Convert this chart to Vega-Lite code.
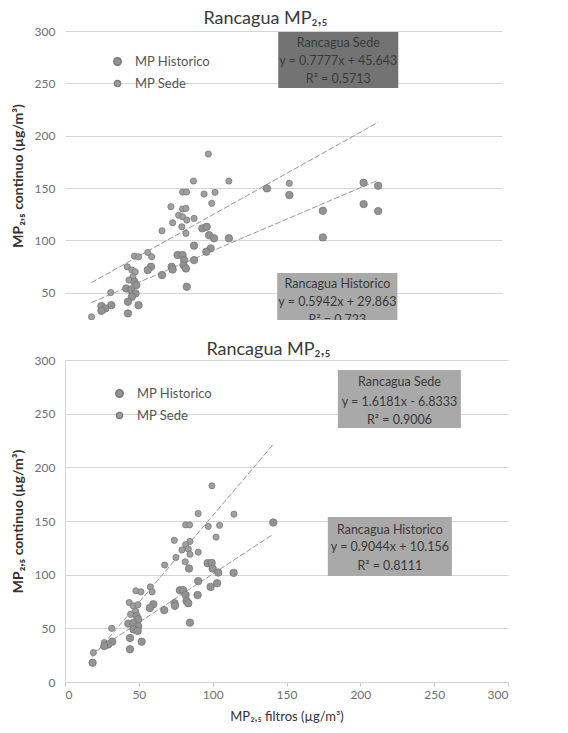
{
  "$schema": "https://vega.github.io/schema/vega-lite/v6.json",
  "background": "white",
  "padding": {"left": 11, "top": 10, "right": 5, "bottom": 5},
  "config": {
    "font": "Lato",
    "view": {"stroke": null},
    "title": {"font": "Lato", "fontSize": 18, "fontWeight": "normal", "color": "#3a3a3a", "offset": -3},
    "axis": {"labelFont": "Lato", "labelFontSize": 12, "labelColor": "#707070", "titleFont": "Lato", "titleFontSize": 14, "titleColor": "#333333", "gridColor": "#d6d6d6", "domainColor": "#d6d6d6", "tickColor": "#c8c8c8"},
    "legend": {"labelFont": "Lato", "labelFontSize": 13, "labelColor": "#555555", "rowPadding": 8, "labelOffset": 11}
  },
  "datasets": {
    "topPts": [
      {"x": 98.4, "y": 182.5, "series": "MP Sede"}, {"x": 88.2, "y": 156.7, "series": "MP Sede"}, {"x": 112.5, "y": 156.7, "series": "MP Sede"},
      {"x": 80.7, "y": 146.2, "series": "MP Sede"}, {"x": 83.4, "y": 146.2, "series": "MP Sede"}, {"x": 95.5, "y": 144.3, "series": "MP Sede"},
      {"x": 103, "y": 145.9, "series": "MP Sede"}, {"x": 100.7, "y": 135.4, "series": "MP Sede"}, {"x": 72.7, "y": 132.2, "series": "MP Sede"},
      {"x": 80.7, "y": 130, "series": "MP Sede"}, {"x": 83, "y": 130.6, "series": "MP Sede"}, {"x": 78, "y": 124, "series": "MP Sede"},
      {"x": 80.7, "y": 122.6, "series": "MP Sede"}, {"x": 83.6, "y": 119.4, "series": "MP Sede"}, {"x": 88.6, "y": 121, "series": "MP Sede"},
      {"x": 73.9, "y": 116.9, "series": "MP Sede"}, {"x": 80.2, "y": 113, "series": "MP Sede"}, {"x": 66.6, "y": 109.2, "series": "MP Sede"},
      {"x": 83, "y": 106.7, "series": "MP Sede"}, {"x": 47.7, "y": 85, "series": "MP Sede"}, {"x": 50.5, "y": 84.4, "series": "MP Sede"},
      {"x": 56.8, "y": 88.5, "series": "MP Sede"}, {"x": 59.5, "y": 84.4, "series": "MP Sede"}, {"x": 42.7, "y": 74.8, "series": "MP Sede"},
      {"x": 45.9, "y": 71.7, "series": "MP Sede"}, {"x": 48.2, "y": 70, "series": "MP Sede"}, {"x": 46.6, "y": 65.3, "series": "MP Sede"},
      {"x": 43.9, "y": 62.1, "series": "MP Sede"}, {"x": 31.4, "y": 50.3, "series": "MP Sede"}, {"x": 18.2, "y": 27, "series": "MP Sede"},
      {"x": 154, "y": 154.5, "series": "MP Sede"},
      {"x": 94.3, "y": 111.5, "series": "MP Historico"}, {"x": 97.3, "y": 113, "series": "MP Historico"}, {"x": 98.9, "y": 105, "series": "MP Historico"},
      {"x": 102.3, "y": 102, "series": "MP Historico"}, {"x": 112.5, "y": 102, "series": "MP Historico"}, {"x": 88.6, "y": 95, "series": "MP Historico"},
      {"x": 100, "y": 92.4, "series": "MP Historico"}, {"x": 97, "y": 89.2, "series": "MP Historico"}, {"x": 77.3, "y": 86, "series": "MP Historico"},
      {"x": 80.7, "y": 86, "series": "MP Historico"}, {"x": 81.8, "y": 81.2, "series": "MP Historico"}, {"x": 88.6, "y": 81.2, "series": "MP Historico"},
      {"x": 59, "y": 74.8, "series": "MP Historico"}, {"x": 56.8, "y": 71.7, "series": "MP Historico"}, {"x": 73.2, "y": 74.8, "series": "MP Historico"},
      {"x": 73.9, "y": 72.3, "series": "MP Historico"}, {"x": 66.6, "y": 66.9, "series": "MP Historico"}, {"x": 81.4, "y": 76.4, "series": "MP Historico"},
      {"x": 83, "y": 73.2, "series": "MP Historico"}, {"x": 47.7, "y": 60.5, "series": "MP Historico"}, {"x": 48.9, "y": 57.3, "series": "MP Historico"},
      {"x": 42, "y": 54.1, "series": "MP Historico"}, {"x": 45.5, "y": 52.5, "series": "MP Historico"}, {"x": 83.6, "y": 55.7, "series": "MP Historico"},
      {"x": 48.4, "y": 49.4, "series": "MP Historico"}, {"x": 45.9, "y": 46.2, "series": "MP Historico"}, {"x": 43.2, "y": 41.4, "series": "MP Historico"},
      {"x": 50.5, "y": 38.2, "series": "MP Historico"}, {"x": 31.8, "y": 38.2, "series": "MP Historico"}, {"x": 25, "y": 37.3, "series": "MP Historico"},
      {"x": 27.7, "y": 35, "series": "MP Historico"}, {"x": 25, "y": 32.8, "series": "MP Historico"}, {"x": 43.2, "y": 30.3, "series": "MP Historico"},
      {"x": 138.6, "y": 149.7, "series": "MP Historico"}, {"x": 154, "y": 143.3, "series": "MP Historico"}, {"x": 177, "y": 128.3, "series": "MP Historico"},
      {"x": 177, "y": 102.9, "series": "MP Historico"}, {"x": 205, "y": 155, "series": "MP Historico"}, {"x": 205, "y": 134.7, "series": "MP Historico"},
      {"x": 215, "y": 152.2, "series": "MP Historico"}, {"x": 215, "y": 128, "series": "MP Historico"}
    ],
    "botPts": [
      {"x": 99.5, "y": 182.8, "series": "MP Sede"}, {"x": 90.2, "y": 157, "series": "MP Sede"}, {"x": 114.4, "y": 156.4, "series": "MP Sede"},
      {"x": 81.7, "y": 146.4, "series": "MP Sede"}, {"x": 84.4, "y": 146.4, "series": "MP Sede"}, {"x": 97, "y": 145, "series": "MP Sede"},
      {"x": 104.7, "y": 146, "series": "MP Sede"}, {"x": 102.3, "y": 135, "series": "MP Sede"}, {"x": 74, "y": 132, "series": "MP Sede"},
      {"x": 84.6, "y": 131, "series": "MP Sede"}, {"x": 81.7, "y": 128, "series": "MP Sede"}, {"x": 79.2, "y": 123, "series": "MP Sede"},
      {"x": 83.5, "y": 124, "series": "MP Sede"}, {"x": 84.6, "y": 119, "series": "MP Sede"}, {"x": 90.2, "y": 121, "series": "MP Sede"},
      {"x": 75.1, "y": 116, "series": "MP Sede"}, {"x": 81.4, "y": 112, "series": "MP Sede"}, {"x": 67.5, "y": 109, "series": "MP Sede"},
      {"x": 48, "y": 85, "series": "MP Sede"}, {"x": 51.4, "y": 84, "series": "MP Sede"}, {"x": 57.8, "y": 88.6, "series": "MP Sede"},
      {"x": 59, "y": 84, "series": "MP Sede"}, {"x": 43.5, "y": 74, "series": "MP Sede"}, {"x": 46.2, "y": 71, "series": "MP Sede"},
      {"x": 49.4, "y": 72, "series": "MP Sede"}, {"x": 47.8, "y": 66, "series": "MP Sede"}, {"x": 44.4, "y": 63, "series": "MP Sede"},
      {"x": 31.6, "y": 50, "series": "MP Sede"}, {"x": 19.2, "y": 27.4, "series": "MP Sede"}, {"x": 26.6, "y": 36.7, "series": "MP Sede"},
      {"x": 141, "y": 148.6, "series": "MP Historico"}, {"x": 96.6, "y": 110.7, "series": "MP Historico"}, {"x": 99.3, "y": 111, "series": "MP Historico"},
      {"x": 84, "y": 105.7, "series": "MP Historico"}, {"x": 100, "y": 105.7, "series": "MP Historico"}, {"x": 103.8, "y": 102, "series": "MP Historico"},
      {"x": 114.2, "y": 101.7, "series": "MP Historico"}, {"x": 90.2, "y": 94, "series": "MP Historico"}, {"x": 103, "y": 92, "series": "MP Historico"},
      {"x": 98.6, "y": 88.6, "series": "MP Historico"}, {"x": 77.8, "y": 85.5, "series": "MP Historico"}, {"x": 80, "y": 85.5, "series": "MP Historico"},
      {"x": 81.7, "y": 81, "series": "MP Historico"}, {"x": 89.8, "y": 81, "series": "MP Historico"}, {"x": 59.8, "y": 72.4, "series": "MP Historico"},
      {"x": 57.5, "y": 69, "series": "MP Historico"}, {"x": 74.2, "y": 73.4, "series": "MP Historico"}, {"x": 74.4, "y": 71, "series": "MP Historico"},
      {"x": 67.2, "y": 67, "series": "MP Historico"}, {"x": 82.3, "y": 75.5, "series": "MP Historico"}, {"x": 83.5, "y": 73.4, "series": "MP Historico"},
      {"x": 48.5, "y": 61.6, "series": "MP Historico"}, {"x": 49.6, "y": 58.5, "series": "MP Historico"}, {"x": 42.9, "y": 54.4, "series": "MP Historico"},
      {"x": 46.2, "y": 55, "series": "MP Historico"}, {"x": 49.6, "y": 52, "series": "MP Historico"}, {"x": 46.4, "y": 49, "series": "MP Historico"},
      {"x": 49.2, "y": 47.6, "series": "MP Historico"}, {"x": 84.6, "y": 55.3, "series": "MP Historico"}, {"x": 44, "y": 41, "series": "MP Historico"},
      {"x": 51.9, "y": 37.6, "series": "MP Historico"}, {"x": 32, "y": 37.6, "series": "MP Historico"}, {"x": 29.3, "y": 35, "series": "MP Historico"},
      {"x": 26.6, "y": 33.6, "series": "MP Historico"}, {"x": 44, "y": 30.5, "series": "MP Historico"}, {"x": 18.7, "y": 18, "series": "MP Historico"}
    ],
    "topLines": [
      {"x": 18, "y": 59.6, "series": "Sede"}, {"x": 215, "y": 212.9, "series": "Sede"},
      {"x": 18, "y": 40.6, "series": "Historico"}, {"x": 215, "y": 157.6, "series": "Historico"}
    ],
    "botLines": [
      {"x": 18.7, "y": 23.4, "series": "Sede"}, {"x": 141, "y": 221.3, "series": "Sede"},
      {"x": 18.7, "y": 27.1, "series": "Historico"}, {"x": 141, "y": 137.7, "series": "Historico"}
    ],
    "topBoxes": [
      {"box": "Sede", "x": 146.4, "x2": 228.8, "y": 299, "y2": 245.5},
      {"box": "Historico", "x": 145.7, "x2": 228.2, "y": 68.8, "y2": 15}
    ],
    "botBoxes": [
      {"box": "Sede", "x": 184.8, "x2": 268.1, "y": 290.7, "y2": 236.7},
      {"box": "Historico", "x": 178, "x2": 262, "y": 153.7, "y2": 98.8}
    ],
    "topText": [
      {"x": 187.6, "y": 288.4, "label": "Rancagua Sede"},
      {"x": 187.6, "y": 271.3, "label": "y = 0.7777x + 45.643"},
      {"x": 187.6, "y": 254, "label": "R² = 0.5713"},
      {"x": 187, "y": 58.3, "label": "Rancagua Historico"},
      {"x": 187, "y": 41.4, "label": "y = 0.5942x + 29.863"},
      {"x": 187, "y": 24.4, "label": "R² = 0.723"}
    ],
    "botText": [
      {"x": 226.5, "y": 279.2, "label": "Rancagua Sede"},
      {"x": 226.5, "y": 261.2, "label": "y = 1.6181x - 6.8333"},
      {"x": 226.5, "y": 244.4, "label": "R² = 0.9006"},
      {"x": 220, "y": 141.9, "label": "Rancagua Historico"},
      {"x": 220, "y": 125.5, "label": "y = 0.9044x + 10.156"},
      {"x": 220, "y": 107.8, "label": "R² = 0.8111"}
    ]
  },
  "resolve": {"scale": {"color": "independent", "size": "independent"}, "legend": {"color": "independent", "size": "independent"}},
  "spacing": 21,
  "vconcat": [
    {
      "title": {"text": "Rancagua MP₂,₅", "dx": -18},
      "width": 437,
      "height": 289,
      "encoding": {
        "x": {"field": "x", "type": "quantitative", "scale": {"domain": [0, 300], "nice": false}, "axis": null},
        "y": {"field": "y", "type": "quantitative", "scale": {"domain": [24, 300], "nice": false, "zero": false},
              "axis": {"title": "MP₂,₅ continuo (µg/m³)", "titleFontWeight": "bold", "values": [50, 100, 150, 200, 250, 300], "grid": true, "domain": false, "ticks": false, "labelPadding": 10, "titlePadding": 9}}
      },
      "layer": [
        {"data": {"name": "topLines"}, "mark": {"type": "line", "stroke": "#999999", "strokeWidth": 1, "strokeDash": [6, 2], "clip": true}, "encoding": {"detail": {"field": "series"}}},
        {"data": {"name": "topPts"}, "mark": {"type": "point", "filled": true, "stroke": "#777777", "strokeWidth": 0.8, "opacity": 1, "clip": true},
         "encoding": {
           "color": {"field": "series", "type": "nominal", "scale": {"domain": ["MP Historico", "MP Sede"], "range": ["#939393", "#a0a0a0"]},
                     "legend": {"title": null, "orient": "none", "legendX": 46, "legendY": 24}},
           "size": {"field": "series", "type": "nominal", "scale": {"domain": ["MP Historico", "MP Sede"], "range": [55, 38]},
                    "legend": {"title": null, "orient": "none", "legendX": 46, "legendY": 24}}
         }},
        {"data": {"name": "topBoxes"}, "transform": [{"filter": "datum.box === 'Sede'"}], "mark": {"type": "rect", "fill": "#737373", "clip": true}, "encoding": {"x2": {"field": "x2"}, "y2": {"field": "y2"}}},
        {"data": {"name": "topBoxes"}, "transform": [{"filter": "datum.box === 'Historico'"}], "mark": {"type": "rect", "fill": "#a9a9a9", "clip": true}, "encoding": {"x2": {"field": "x2"}, "y2": {"field": "y2"}}},
        {"data": {"name": "topText"}, "mark": {"type": "text", "fontSize": 12.5, "font": "Lato", "color": "#3a3a3a", "baseline": "middle", "align": "center", "clip": true}, "encoding": {"text": {"field": "label"}}}
      ]
    },
    {
      "title": {"text": "Rancagua MP₂,₅", "dx": -18, "offset": -5},
      "width": 443,
      "height": 322,
      "encoding": {
        "x": {"field": "x", "type": "quantitative", "scale": {"domain": [0, 300], "nice": false},
              "axis": {"title": "MP₂,₅ filtros (µg/m³)", "titleFontWeight": "normal", "titleFontSize": 13, "values": [0, 50, 100, 150, 200, 250, 300], "grid": false, "domain": true, "ticks": true, "tickSize": 4, "labelPadding": 3, "titlePadding": 10}},
        "y": {"field": "y", "type": "quantitative", "scale": {"domain": [0, 300], "nice": false},
              "axis": {"title": "MP₂,₅ continuo (µg/m³)", "titleFontWeight": "bold", "values": [0, 50, 100, 150, 200, 250, 300], "grid": true, "domain": true, "ticks": false, "labelPadding": 10, "titlePadding": 9}}
      },
      "layer": [
        {"data": {"name": "botLines"}, "mark": {"type": "line", "stroke": "#999999", "strokeWidth": 1, "strokeDash": [6, 2]}, "encoding": {"detail": {"field": "series"}}},
        {"data": {"name": "botPts"}, "mark": {"type": "point", "filled": true, "stroke": "#777777", "strokeWidth": 0.8, "opacity": 1},
         "encoding": {
           "color": {"field": "series", "type": "nominal", "scale": {"domain": ["MP Historico", "MP Sede"], "range": ["#939393", "#a0a0a0"]},
                     "legend": {"title": null, "orient": "none", "legendX": 48, "legendY": 27}},
           "size": {"field": "series", "type": "nominal", "scale": {"domain": ["MP Historico", "MP Sede"], "range": [55, 38]},
                    "legend": {"title": null, "orient": "none", "legendX": 48, "legendY": 27}}
         }},
        {"data": {"name": "botBoxes"}, "mark": {"type": "rect", "fill": "#a9a9a9"}, "encoding": {"x2": {"field": "x2"}, "y2": {"field": "y2"}}},
        {"data": {"name": "botText"}, "mark": {"type": "text", "fontSize": 12.5, "font": "Lato", "color": "#3a3a3a", "baseline": "middle", "align": "center"}, "encoding": {"text": {"field": "label"}}}
      ]
    }
  ]
}
